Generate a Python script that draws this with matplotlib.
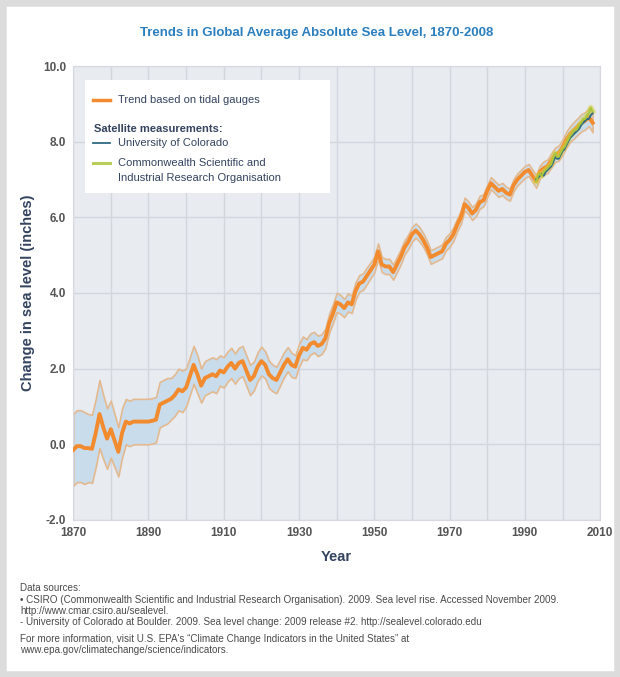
import numpy as np
import matplotlib.pyplot as plt
from matplotlib.patches import Rectangle
from matplotlib.lines import Line2D

# tidal gauge trend (inches), one value per year 1870-2008
years = np.arange(1870, 2009)
trend = [
    -0.15, -0.05, -0.05, -0.10, -0.10, -0.12, 0.30, 0.80, 0.45, 0.15,
    0.40, 0.10, -0.20, 0.30, 0.60, 0.55, 0.60, 0.60, 0.60, 0.60,
    0.60, 0.62, 0.65, 1.05, 1.10, 1.15, 1.20, 1.30, 1.45, 1.40,
    1.50, 1.80, 2.10, 1.85, 1.55, 1.75, 1.80, 1.85, 1.80, 1.95,
    1.90, 2.05, 2.15, 2.00, 2.15, 2.20, 1.95, 1.70, 1.80, 2.05,
    2.20, 2.10, 1.85, 1.75, 1.70, 1.90, 2.10, 2.25, 2.10, 2.05,
    2.35, 2.55, 2.50, 2.65, 2.70, 2.60, 2.65, 2.80, 3.20, 3.45,
    3.75, 3.70, 3.60, 3.75, 3.70, 4.05, 4.25, 4.30, 4.45, 4.60,
    4.75, 5.10, 4.75, 4.70, 4.70, 4.55, 4.75, 4.95, 5.20, 5.35,
    5.55, 5.65, 5.55, 5.40, 5.20, 4.95, 5.00, 5.05, 5.10, 5.30,
    5.40, 5.55, 5.80, 6.00, 6.35, 6.25, 6.10, 6.20, 6.40, 6.45,
    6.70, 6.90, 6.80, 6.70, 6.75, 6.65, 6.60, 6.85, 7.00, 7.10,
    7.20, 7.25, 7.10, 6.95, 7.20, 7.30, 7.35, 7.50, 7.65, 7.70,
    7.85, 8.05, 8.20, 8.30, 8.40, 8.50, 8.55, 8.65, 8.50,
]
# half width of the uncertainty band (inches)
band = [
    0.95, 0.95, 0.95, 0.95, 0.90, 0.90, 0.90, 0.90, 0.85, 0.80,
    0.75, 0.70, 0.65, 0.65, 0.60, 0.60, 0.60, 0.60, 0.60, 0.60,
    0.60, 0.60, 0.60, 0.60, 0.60, 0.60, 0.55, 0.55, 0.55, 0.55,
    0.50, 0.50, 0.50, 0.50, 0.45, 0.45, 0.45, 0.45, 0.45, 0.40,
    0.40, 0.40, 0.40, 0.40, 0.40, 0.40, 0.40, 0.40, 0.38, 0.38,
    0.38, 0.36, 0.36, 0.35, 0.35, 0.34, 0.33, 0.32, 0.32, 0.30,
    0.30, 0.30, 0.28, 0.28, 0.27, 0.27, 0.26, 0.26, 0.25, 0.25,
    0.25, 0.25, 0.24, 0.24, 0.23, 0.23, 0.22, 0.22, 0.22, 0.21,
    0.21, 0.21, 0.20, 0.20, 0.20, 0.20, 0.20, 0.20, 0.19, 0.19,
    0.19, 0.19, 0.19, 0.18, 0.18, 0.18, 0.18, 0.18, 0.18, 0.18,
    0.18, 0.18, 0.17, 0.17, 0.17, 0.17, 0.17, 0.17, 0.17, 0.16,
    0.16, 0.16, 0.16, 0.16, 0.16, 0.16, 0.16, 0.16, 0.16, 0.16,
    0.16, 0.16, 0.16, 0.17, 0.17, 0.18, 0.18, 0.19, 0.19, 0.20,
    0.20, 0.21, 0.21, 0.22, 0.22, 0.23, 0.23, 0.24, 0.25,
]

# satellite measurements, half-year steps 1993-2008
sat_years = np.arange(1993.0, 2008.5, 0.5)
colorado = [
    7.00, 7.05, 7.10, 7.15, 7.10, 7.20, 7.25, 7.30, 7.35, 7.45,
    7.60, 7.55, 7.55, 7.65, 7.75, 7.80, 7.90, 8.00, 8.10, 8.15,
    8.20, 8.25, 8.30, 8.35, 8.45, 8.50, 8.55, 8.60, 8.60, 8.70,
    8.75,
]
csiro = [
    6.95, 7.10, 7.15, 7.10, 7.20, 7.25, 7.30, 7.35, 7.40, 7.55,
    7.70, 7.60, 7.60, 7.70, 7.80, 7.85, 7.95, 8.05, 8.15, 8.20,
    8.30, 8.30, 8.35, 8.45, 8.50, 8.60, 8.60, 8.70, 8.75, 8.90,
    8.80,
]

x_ticks = [1870, 1890, 1910, 1930, 1950, 1970, 1990, 2010]
y_ticks = [-2.0, 0.0, 2.0, 4.0, 6.0, 8.0, 10.0]

orange = '#f28a2e'
navy = '#34435f'

plt.rcParams['font.family'] = ['Liberation Sans', 'DejaVu Sans']

fig = plt.figure(figsize=(6.2, 6.77), dpi=100)
fig.patch.set_facecolor('white')
fig.patches.append(Rectangle((0, 0), 1, 1, transform=fig.transFigure,
                             fill=False, edgecolor='#dcdcdc', linewidth=9))

ax = fig.add_axes([0.118, 0.232, 0.85, 0.6705])
ax.set_facecolor('#e8ebf0')

tr = np.array(trend)
bd = np.array(band)
ax.fill_between(years, tr - bd, tr + bd, color='#c9dcec', edgecolor='#e3b98f',
                linewidth=1.2, zorder=2)
ax.plot(years, trend, color=orange, linewidth=2.8, zorder=3)
ax.plot(sat_years, csiro, color='#d8cf3a', linewidth=4, alpha=0.55, zorder=4)
ax.plot(sat_years, colorado, color='#2f6a86', linewidth=1.4, zorder=5)
ax.plot(sat_years, csiro, color='#a9c63c', linewidth=1.4, zorder=6)

ax.set_xlim(1870, 2010)
ax.set_ylim(-2, 10)
ax.set_xticks(x_ticks)
ax.set_xticks(np.arange(1880, 2010, 20), minor=True)
ax.set_yticks(y_ticks)
ax.set_yticklabels(['%.1f' % v for v in y_ticks])
ax.grid(True, which='both', axis='x', color='#d2d6dd', linewidth=1.0, zorder=0)
ax.grid(True, which='major', axis='y', color='#d2d6dd', linewidth=1.0, zorder=0)
ax.set_axisbelow(True)
ax.tick_params(axis='both', which='both', length=0, labelsize=8.5,
               labelcolor='#555555', pad=5)
for lab in ax.get_xticklabels() + ax.get_yticklabels():
    lab.set_fontweight('bold')
for s in ax.spines.values():
    s.set_color('#d6dae0')

ax.set_xlabel('Year', fontsize=10.5, fontweight='bold', color=navy, labelpad=8)
ax.set_ylabel('Change in sea level (inches)', fontsize=10.5, fontweight='bold',
              color=navy, labelpad=6)

# legend box
ax.add_patch(Rectangle((0.023, 0.72), 0.465, 0.249, transform=ax.transAxes,
                       facecolor='white', edgecolor='none', zorder=7))
ax.add_line(Line2D([0.037, 0.07], [0.925, 0.925], transform=ax.transAxes,
                   color=orange, linewidth=2.5, zorder=8))
ax.text(0.085, 0.925, 'Trend based on tidal gauges', transform=ax.transAxes,
        fontsize=8, color=navy, va='center', zorder=8)
ax.text(0.04, 0.862, 'Satellite measurements:', transform=ax.transAxes,
        fontsize=8, color=navy, fontweight='bold', va='center', zorder=8)
ax.add_line(Line2D([0.037, 0.07], [0.83, 0.83], transform=ax.transAxes,
                   color='#2f6a86', linewidth=1.3, zorder=8))
ax.text(0.085, 0.83, 'University of Colorado', transform=ax.transAxes,
        fontsize=8, color=navy, va='center', zorder=8)
ax.add_line(Line2D([0.037, 0.07], [0.786, 0.786], transform=ax.transAxes,
                   color='#b9cf5a', linewidth=2.2, zorder=8))
ax.text(0.085, 0.786, 'Commonwealth Scientific and', transform=ax.transAxes,
        fontsize=8, color=navy, va='center', zorder=8)
ax.text(0.085, 0.753, 'Industrial Research Organisation', transform=ax.transAxes,
        fontsize=8, color=navy, va='center', zorder=8)

fig.text(0.51, 0.951, 'Trends in Global Average Absolute Sea Level, 1870-2008',
         ha='center', va='center', fontsize=9.5, fontweight='bold', color='#2c7fbe')

notes = [
    ('Data sources:', 588),
    ('\u2022 CSIRO (Commonwealth Scientific and Industrial Research Organisation). 2009. Sea level rise. Accessed November 2009.', 600),
    ('http://www.cmar.csiro.au/sealevel.', 611),
    ('- University of Colorado at Boulder. 2009. Sea level change: 2009 release #2. http://sealevel.colorado.edu', 622),
    ('For more information, visit U.S. EPA\'s \u201cClimate Change Indicators in the United States\u201d at', 639),
    ('www.epa.gov/climatechange/science/indicators.', 650),
]
for line, ypx in notes:
    fig.text(0.033, 1 - ypx / 677, line, fontsize=7.1, color='#4a4a4a',
             va='center', ha='left')

fig.savefig('out.png', dpi=100)
